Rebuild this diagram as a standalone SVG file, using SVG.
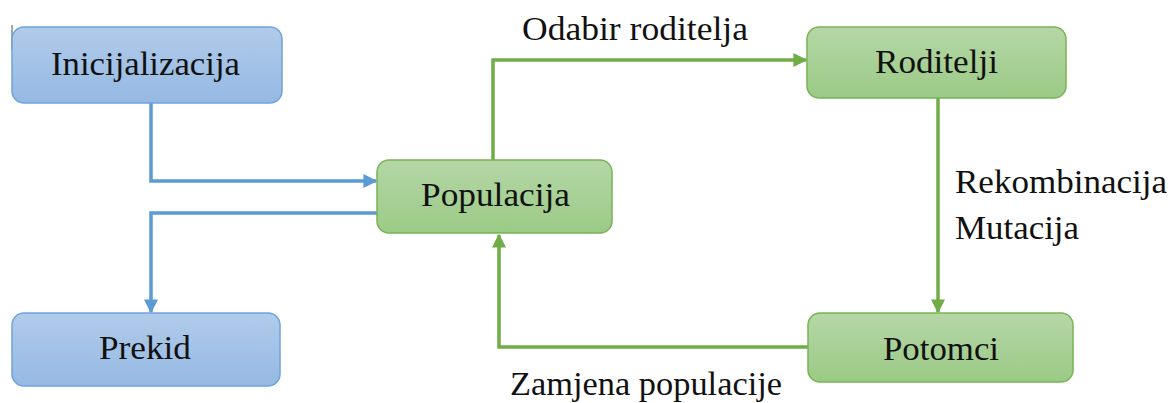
<svg xmlns="http://www.w3.org/2000/svg" width="1172" height="403" viewBox="0 0 1172 403">
<style>
.lbl{font-family:"Liberation Serif","Times New Roman",serif;font-size:34px;fill:#111}
.blueBox{fill:url(#gBlue);stroke:#6fa3dc;stroke-width:1.5}
.greenBox{fill:url(#gGreen);stroke:#78b455;stroke-width:1.5}
.bl{fill:none;stroke:#5b9bd5;stroke-width:3.5}
.gl{fill:none;stroke:#70ad47;stroke-width:3.5}
</style>
<defs>
<linearGradient id="gBlue" x1="0" y1="0" x2="0" y2="1">
<stop offset="0" stop-color="#b1cbea"/><stop offset="1" stop-color="#95b9e3"/>
</linearGradient>
<linearGradient id="gGreen" x1="0" y1="0" x2="0" y2="1">
<stop offset="0" stop-color="#b5d7a6"/><stop offset="1" stop-color="#9bca86"/>
</linearGradient>
<marker id="aBlue" viewBox="0 0 10 10" refX="9" refY="5" markerWidth="4" markerHeight="4" markerUnits="strokeWidth" orient="auto">
<path d="M0,0 L10,5 L0,10 z" fill="#5b9bd5"/>
</marker>
<marker id="aGreen" viewBox="0 0 10 10" refX="9" refY="5" markerWidth="4" markerHeight="4" markerUnits="strokeWidth" orient="auto">
<path d="M0,0 L10,5 L0,10 z" fill="#70ad47"/>
</marker>
</defs>
<line x1="12" y1="25" x2="12" y2="50" stroke="#8a8a8a" stroke-width="1.5"/>
<g id="connectors">
<path class="bl" d="M151,102 V181 H376" marker-end="url(#aBlue)"/>
<path class="bl" d="M377,213 H151 V312" marker-end="url(#aBlue)"/>
<path class="gl" d="M493,160 V60 H806" marker-end="url(#aGreen)"/>
<path class="gl" d="M938,98 V312" marker-end="url(#aGreen)"/>
<path class="gl" d="M808,347 H499 V235" marker-end="url(#aGreen)"/>
</g>
<g id="n-init">
<rect class="blueBox" x="12" y="27" width="270" height="76" rx="12"/>
<text class="lbl" x="51" y="75" textLength="189" lengthAdjust="spacingAndGlyphs">Inicijalizacija</text>
</g>
<g id="n-pop">
<rect class="greenBox" x="377" y="160" width="235" height="73" rx="12"/>
<text class="lbl" x="421" y="206" textLength="149" lengthAdjust="spacingAndGlyphs">Populacija</text>
</g>
<g id="n-rod">
<rect class="greenBox" x="807" y="27" width="259" height="71" rx="12"/>
<text class="lbl" x="875" y="73" textLength="123" lengthAdjust="spacingAndGlyphs">Roditelji</text>
</g>
<g id="n-prekid">
<rect class="blueBox" x="12" y="313" width="268" height="73" rx="12"/>
<text class="lbl" x="99" y="359" textLength="92" lengthAdjust="spacingAndGlyphs">Prekid</text>
</g>
<g id="n-potomci">
<rect class="greenBox" x="808" y="313" width="265" height="69" rx="12"/>
<text class="lbl" x="883" y="360" textLength="116" lengthAdjust="spacingAndGlyphs">Potomci</text>
</g>
<g id="labels">
<text class="lbl" x="522" y="40" textLength="226" lengthAdjust="spacingAndGlyphs">Odabir roditelja</text>
<text class="lbl" x="955" y="193" textLength="212" lengthAdjust="spacingAndGlyphs">Rekombinacija</text>
<text class="lbl" x="955" y="239" textLength="124" lengthAdjust="spacingAndGlyphs">Mutacija</text>
<text class="lbl" x="510" y="395" textLength="272" lengthAdjust="spacingAndGlyphs">Zamjena populacije</text>
</g>
</svg>
